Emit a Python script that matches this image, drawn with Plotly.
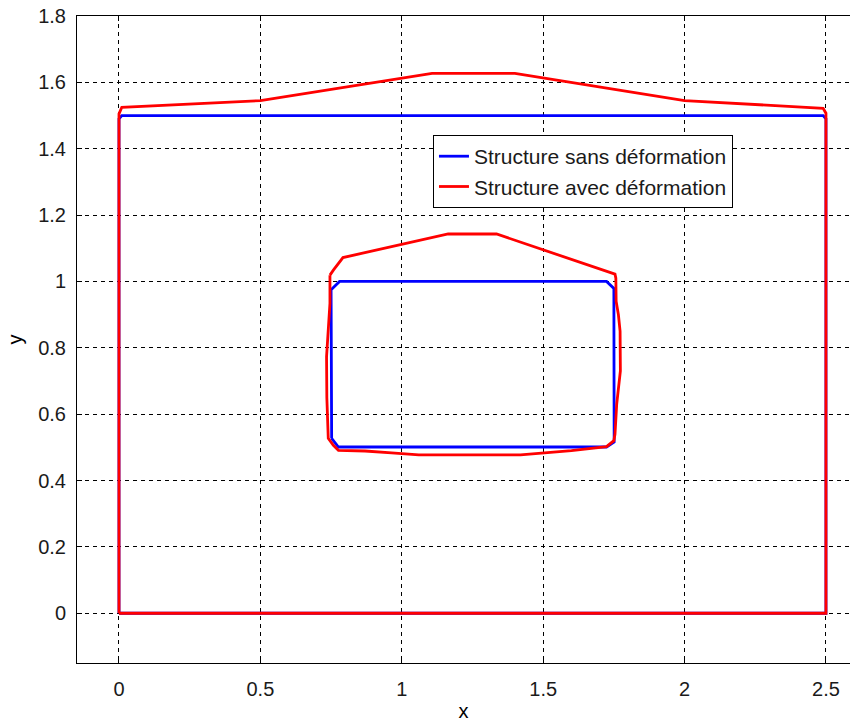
import plotly.graph_objects as go

# Undeformed structure: outer frame and inner opening (None separates the loops)
x_sans = [0, 0, 0.01, 2.49, 2.5, 2.5, 0, None,
          0.752, 0.75, 0.78, 1.724, 1.75, 1.751, 1.724, 0.776, 0.752]
y_sans = [0, 1.49, 1.5, 1.5, 1.49, 0, 0, None,
          0.527, 0.975, 1.0, 1.0, 0.979, 0.516, 0.501, 0.501, 0.527]

# Deformed structure: outer frame and inner opening
x_avec = [0, 0, 0.01, 0.5, 1.107, 1.40, 2.0, 2.39, 2.49, 2.5, 2.5, 0, None,
          0.746, 0.758, 0.792, 1.164, 1.335, 1.754, 1.757, 1.758, 1.766, 1.772,
          1.773, 1.768, 1.76, 1.754, 1.75, 1.724, 1.6, 1.42, 1.06, 0.964, 0.87,
          0.776, 0.758, 0.74, 0.735, 0.734, 0.74, 0.746, 0.746]
y_avec = [0, 1.505, 1.525, 1.545, 1.627, 1.627, 1.545, 1.526, 1.522, 1.507, 0, 0, None,
          1.019, 1.034, 1.072, 1.143, 1.143, 1.022, 1.01, 0.94, 0.9, 0.85,
          0.73, 0.69, 0.63, 0.54, 0.52, 0.502, 0.49, 0.477, 0.477, 0.483, 0.489,
          0.491, 0.506, 0.527, 0.65, 0.773, 0.853, 0.934, 1.019]

x_ticks = [0, 0.5, 1, 1.5, 2, 2.5]
y_ticks = [0, 0.2, 0.4, 0.6, 0.8, 1.0, 1.2, 1.4, 1.6, 1.8]

fig = go.Figure()
fig.add_trace(go.Scatter(x=x_sans, y=y_sans, mode="lines",
                         name="Structure sans déformation",
                         line=dict(color="#0000FF", width=2.8)))
fig.add_trace(go.Scatter(x=x_avec, y=y_avec, mode="lines",
                         name="Structure avec déformation",
                         line=dict(color="#FF0000", width=2.8)))

font_family = "Liberation Sans, Arial, sans-serif"
common_axis = dict(
    showline=True, linecolor="black", linewidth=1,
    ticks="inside", ticklen=5, tickcolor="black", tickwidth=1,
    showgrid=True, gridcolor="black", gridwidth=1, griddash="4px,4px",
    zeroline=False, tickfont=dict(size=20, color="#1a1a1a"),
)

fig.update_layout(
    width=850, height=722,
    margin=dict(l=77, r=0, t=16, b=59),
    paper_bgcolor="white", plot_bgcolor="white",
    font=dict(family=font_family, size=20, color="black"),
    showlegend=True,
    legend=dict(x=0.4605, y=0.816, xanchor="left", yanchor="top",
                bgcolor="white", bordercolor="black", borderwidth=1,
                font=dict(size=21, color="#1a1a1a"), tracegroupgap=0),
)
fig.update_xaxes(range=[-0.1485, 2.585], tickvals=x_ticks, mirror="ticks",
                 ticklabelstandoff=8,
                 title=dict(text="x", font=dict(size=20), standoff=6),
                 **common_axis)
fig.update_yaxes(range=[-0.15, 1.8], tickvals=y_ticks, mirror=False,
                 ticklabelstandoff=6,
                 title=dict(text="y", font=dict(size=20), standoff=10),
                 **common_axis)

fig.write_html("out.html")
